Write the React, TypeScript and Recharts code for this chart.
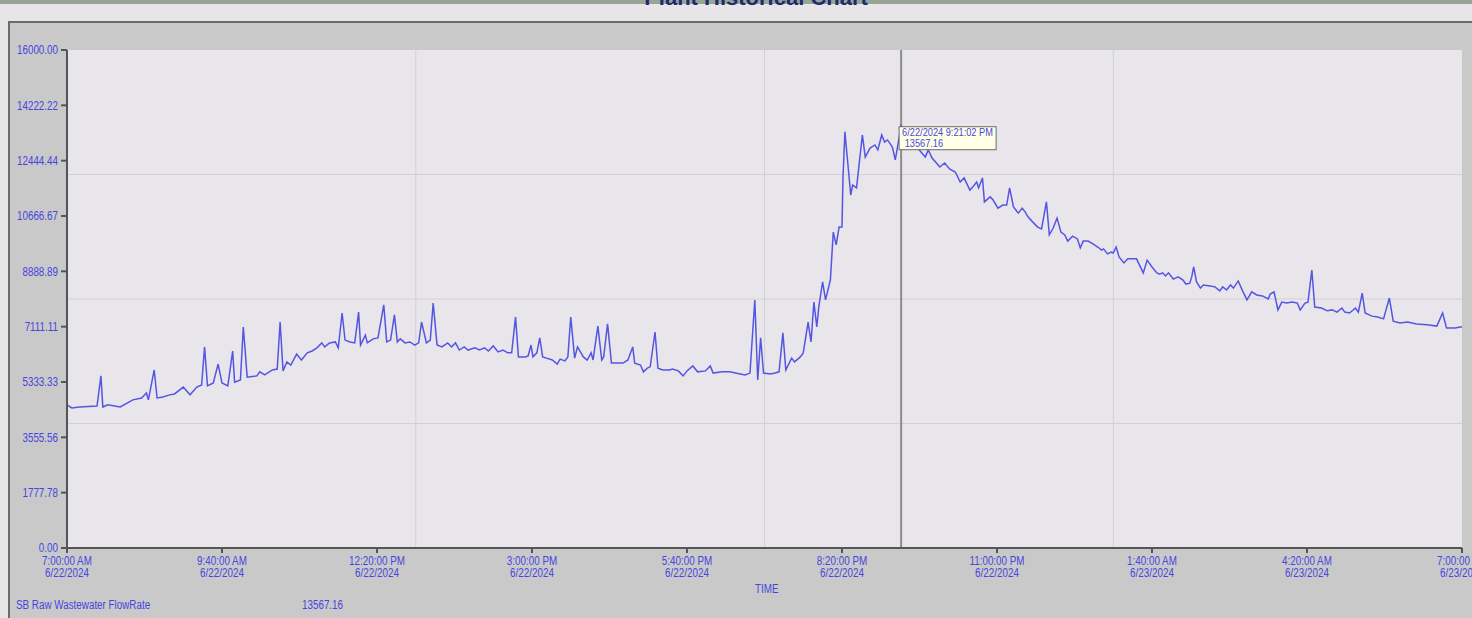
import React from 'react';
import { LineChart, Line, XAxis, YAxis, ReferenceLine, ReferenceDot } from 'recharts';

// readings: [minutes after 7:00 AM on 6/22/2024, flow rate]
const morningReadings: [number, number][] = [
  [0, 4600], [5, 4500], [13, 4530], [31, 4560], [35, 5530], [37, 4530], [42, 4600], [55, 4530],
  [68, 4760], [77, 4820], [82, 4980], [84, 4760], [90, 5720], [93, 4820], [99, 4850], [106, 4920],
  [111, 4950], [120, 5170], [127, 4920], [134, 5170], [139, 5240], [142, 6460], [145, 5210], [151, 5300],
  [156, 5910], [160, 5300], [166, 5210], [171, 6330], [173, 5330], [179, 5400], [182, 7100], [186, 5490],
  [196, 5530], [199, 5660], [204, 5560],
];

const middayReadings: [number, number][] = [
  [212, 5720], [217, 5750], [220, 7260], [223, 5690], [227, 5980], [231, 5880], [237, 6230], [242, 6040],
  [248, 6270], [253, 6330], [258, 6430], [263, 6590], [266, 6460], [271, 6590], [277, 6620], [280, 6430],
  [284, 7550], [287, 6680], [292, 6620], [297, 6590], [301, 7580], [303, 6520], [308, 6840], [310, 6590],
  [316, 6720], [321, 6750], [327, 7810], [330, 6620], [334, 6680], [338, 7490], [341, 6620], [344, 6720],
  [349, 6590], [354, 6620], [359, 6520], [363, 6590], [366, 7260], [371, 6590], [375, 6680], [378, 7870],
  [382, 6520], [387, 6460], [393, 6590], [397, 6460], [401, 6590], [405, 6360], [410, 6460], [414, 6360],
];

const afternoonReadings: [number, number][] = [
  [421, 6430], [426, 6360], [431, 6430], [435, 6330], [440, 6490], [445, 6300], [450, 6360], [455, 6270],
  [459, 6270], [463, 7420], [466, 6140], [473, 6140], [476, 6170], [479, 6520], [481, 6140], [485, 6270],
  [488, 6750], [491, 6140], [495, 6100], [501, 6040], [506, 5910], [509, 6070], [514, 6010], [517, 6140],
  [520, 7420], [524, 6100], [527, 6460], [533, 6140], [537, 6040], [541, 6270], [543, 6040], [548, 7130],
  [552, 6040], [554, 6140], [558, 7200], [562, 5940], [568, 5940], [574, 5940], [579, 6040], [584, 6460],
  [586, 5940], [592, 5880], [595, 5660], [599, 5780], [602, 5820], [607, 6940], [610, 5780], [615, 5720],
  [622, 5720], [625, 5750], [631, 5690], [636, 5530], [640, 5690], [646, 5850], [651, 5660], [659, 5690],
  [664, 5850], [667, 5620], [676, 5660], [684, 5660], [695, 5590], [700, 5560], [705, 5620],
];

const eveningReadings: [number, number][] = [
  [710, 7970], [713, 5400], [716, 6750], [719, 5620], [726, 5590], [731, 5620], [735, 5660], [739, 6910],
  [742, 5720], [748, 6100], [751, 5980], [757, 6140], [760, 6270], [765, 7260], [768, 6620], [771, 7900],
  [774, 7100], [776, 7740], [780, 8550], [783, 7970], [788, 8610], [791, 10150], [794, 9740], [797, 10310],
  [800, 10310], [801, 11890], [803, 13370], [805, 12690], [809, 11340], [811, 11660], [815, 11570], [821, 13270],
  [824, 12560], [829, 12850], [834, 12950], [837, 12790], [841, 13270], [844, 13040], [847, 13110], [852, 12880],
  [855, 12470], [858, 13010], [861, 13567.16], [865, 13330], [870, 13110], [874, 12980], [878, 12850], [886, 12560],
  [889, 12790], [893, 12530], [901, 12240], [906, 12370], [911, 12180], [917, 12080], [922, 11760], [926, 11890],
  [932, 11500], [935, 11600], [939, 11760], [941, 11570], [945, 11890], [947, 11120], [953, 11280], [956, 11180],
  [961, 10920], [966, 11020], [970, 11020], [973, 11570], [977, 10960], [982, 10760], [986, 10920], [989, 10800],
  [992, 10640], [997, 10470],
];

const overnightReadings: [number, number][] = [
  [1002, 10310], [1006, 10250], [1011, 11120], [1014, 10060], [1018, 10280], [1022, 10600], [1026, 10150], [1030, 10060],
  [1033, 9860], [1038, 10020], [1043, 9930], [1046, 9640], [1049, 9860], [1054, 9860], [1059, 9770], [1064, 9670],
  [1068, 9570], [1070, 9610], [1074, 9450], [1078, 9510], [1080, 9480], [1083, 9670], [1086, 9350], [1091, 9160],
  [1095, 9290], [1100, 9290], [1104, 9290], [1111, 8840], [1115, 9250], [1120, 9030], [1125, 8840], [1128, 8800],
  [1131, 8840], [1134, 8740], [1137, 8840], [1142, 8640], [1147, 8710], [1152, 8610], [1155, 8480], [1159, 8510],
  [1161, 8710], [1163, 9030], [1166, 8550], [1170, 8350], [1173, 8450], [1180, 8420], [1185, 8390], [1190, 8260],
  [1193, 8390], [1197, 8290], [1201, 8450], [1204, 8350], [1209, 8580], [1214, 8230], [1218, 7970], [1223, 8230],
  [1228, 8130], [1234, 8100], [1240, 8000], [1242, 8160], [1246, 8230], [1250, 7650], [1254, 7900], [1259, 7870],
  [1265, 7900], [1270, 7870], [1273, 7650], [1278, 7870], [1281, 7900], [1285, 8930], [1288, 7740], [1295, 7710],
  [1301, 7620], [1306, 7650], [1311, 7580], [1316, 7710], [1319, 7580], [1324, 7550], [1330, 7710], [1333, 7580],
  [1337, 8190], [1340, 7550], [1347, 7450], [1353, 7420], [1359, 7360], [1365, 8030], [1369, 7290], [1376, 7230],
  [1384, 7260], [1393, 7200], [1404, 7170], [1414, 7130], [1420, 7550], [1424, 7070], [1433, 7070], [1438, 7100],
  [1440, 7100],
];

const xTickMinutes = [0, 160, 320, 480, 640, 800, 960, 1120, 1280, 1440];
const xTickTimes = ['7:00:00 AM', '9:40:00 AM', '12:20:00 PM', '3:00:00 PM', '5:40:00 PM', '8:20:00 PM', '11:00:00 PM', '1:40:00 AM', '4:20:00 AM', '7:00:00 AM'];
const xTickDates = ['6/22/2024', '6/22/2024', '6/22/2024', '6/22/2024', '6/22/2024', '6/22/2024', '6/22/2024', '6/23/2024', '6/23/2024', '6/23/2024'];
const yTicks = [0, 1777.78, 3555.56, 5333.33, 7111.11, 8888.89, 10666.67, 12444.44, 14222.22, 16000];
const gridValues = [4000, 8000, 12000];
const gridMinutes = [360, 720, 1080];

const cursorMinute = 861.03;
const cursorValue = 13567.16;
const cursorLabel = '6/22/2024 9:21:02 PM';
const seriesName = 'SB Raw Wastewater FlowRate';
const axisTitle = 'TIME';
const chartTitle = 'Plant Historical Chart';

const data = [...morningReadings, ...middayReadings, ...afternoonReadings, ...eveningReadings, ...overnightReadings]
  .map(([t, v]) => ({ t, v }));

const FONT = "'Liberation Sans', Arial, sans-serif";
const BLUE = '#4646de';
const SQUEEZE = 0.82;

const XTick = (props: any) => {
  const { x, y, payload } = props;
  const i = xTickMinutes.indexOf(payload.value);
  return (
    <g transform={`translate(${x},${y}) scale(${SQUEEZE},1)`}>
      <text x={0} y={10} textAnchor="middle" fontSize={12} fill={BLUE} fontFamily={FONT}>{xTickTimes[i]}</text>
      <text x={0} y={22} textAnchor="middle" fontSize={12} fill={BLUE} fontFamily={FONT}>{xTickDates[i]}</text>
    </g>
  );
};

const YTick = (props: any) => {
  const { x, y, payload } = props;
  return (
    <g transform={`translate(${x},${y}) scale(${SQUEEZE},1)`}>
      <text x={0} y={0} dy="0.35em" textAnchor="end" fontSize={12} fill={BLUE} fontFamily={FONT}>
        {Number(payload.value).toFixed(2)}
      </text>
    </g>
  );
};

const CursorBox = (props: any) => {
  const { cx, cy } = props;
  if (cx == null || cy == null) return null;
  return (
    <g>
      <rect x={cx - 2} y={cy + 1} width={97} height={23} fill="#ffffe6" stroke="#6a6a6a" strokeWidth={1} />
      <g transform={`translate(${cx + 1},${cy + 10}) scale(0.84,1)`}>
        <text x={0} y={0} fontSize={11} fill={BLUE} fontFamily={FONT}>{cursorLabel}</text>
        <text x={3} y={11} fontSize={11} fill={BLUE} fontFamily={FONT}>{cursorValue.toFixed(2)}</text>
      </g>
    </g>
  );
};

const squeezed: React.CSSProperties = { transform: `scaleX(${SQUEEZE})`, transformOrigin: 'left top', whiteSpace: 'nowrap' };

const App: React.FC = () => (
  <div style={{ position: 'absolute', left: 0, top: 0, width: 1472, height: 618, overflow: 'hidden', background: '#e7e5e8', fontFamily: FONT }}>
    <div style={{ position: 'absolute', left: 0, top: 0, width: 1472, height: 4, background: '#9aa494' }} />
    <div style={{ position: 'absolute', left: 556, top: -15, width: 400, textAlign: 'center', fontSize: 22, fontWeight: 'bold', color: '#1f2a70' }}>
      {chartTitle}
    </div>
    <div style={{ position: 'absolute', left: 8, top: 21, width: 1470, height: 595, background: '#c9c9c9', borderTop: '2px solid #6c6c6c', borderLeft: '2px solid #6c6c6c', borderBottom: '2px solid #6c6c6c' }} />
    <div style={{ position: 'absolute', left: 67, top: 50, width: 1395, height: 498, background: '#e8e6ea' }} />
    <div style={{ position: 'absolute', left: 0, top: 0 }}>
      <LineChart width={1472} height={618} data={data} margin={{ top: 50, right: 10, bottom: 30, left: 10 }}>
        <XAxis
          dataKey="t"
          type="number"
          domain={[0, 1440]}
          ticks={xTickMinutes}
          interval={0}
          height={40}
          tick={<XTick />}
          tickSize={5}
          axisLine={{ stroke: '#555', strokeWidth: 2 }}
          tickLine={{ stroke: '#555', strokeWidth: 2 }}
        />
        <YAxis
          type="number"
          domain={[0, 16000]}
          ticks={yTicks}
          interval={0}
          width={57}
          tickSize={6}
          tickMargin={3}
          tick={<YTick />}
          axisLine={{ stroke: '#555', strokeWidth: 2 }}
          tickLine={{ stroke: '#555', strokeWidth: 2 }}
        />
        {gridValues.map((g) => (
          <ReferenceLine key={`h${g}`} y={g} stroke="#d2d0d4" strokeWidth={1} />
        ))}
        {gridMinutes.map((g) => (
          <ReferenceLine key={`v${g}`} x={g} stroke="#d2d0d4" strokeWidth={1} />
        ))}
        <ReferenceLine x={cursorMinute} stroke="#8c8c8c" strokeWidth={2} />
        <Line type="linear" dataKey="v" stroke="#5555e4" strokeWidth={1.5} dot={false} isAnimationActive={false} />
        <ReferenceDot x={cursorMinute} y={cursorValue} r={0} shape={<CursorBox />} />
      </LineChart>
    </div>
    <div style={{ position: 'absolute', left: 755, top: 582, fontSize: 12, color: BLUE, ...squeezed }}>{axisTitle}</div>
    <div style={{ position: 'absolute', left: 16, top: 598, fontSize: 12, color: BLUE, ...squeezed }}>{seriesName}</div>
    <div style={{ position: 'absolute', left: 302, top: 598, fontSize: 12, color: BLUE, ...squeezed }}>{cursorValue.toFixed(2)}</div>
  </div>
);

export default App;
